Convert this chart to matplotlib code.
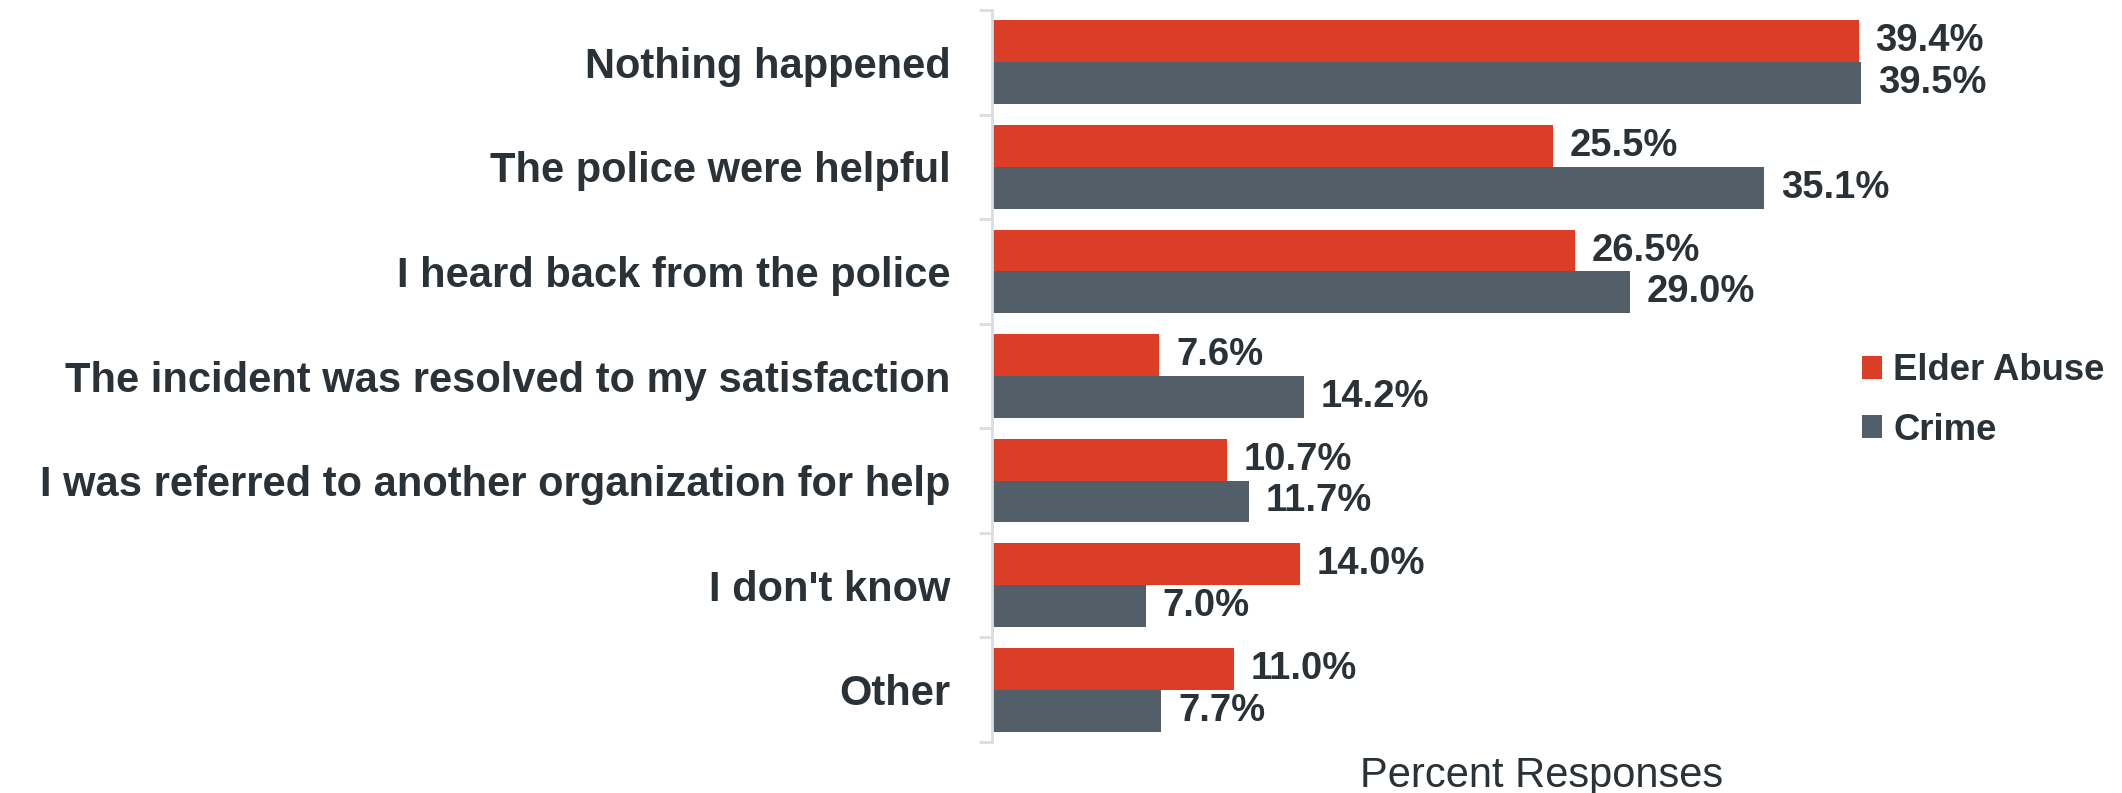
import matplotlib
matplotlib.use("Agg")
import matplotlib.pyplot as plt
import numpy as np
from matplotlib.patches import Patch

categories = ["Nothing happened", "The police were helpful", "I heard back from the police",
              "The incident was resolved to my satisfaction",
              "I was referred to another organization for help", "I don't know", "Other"]
elder_abuse = [39.4, 25.5, 26.5, 7.6, 10.7, 14.0, 11.0]
crime = [39.5, 35.1, 29.0, 14.2, 11.7, 7.0, 7.7]
series_names = ["Elder Abuse", "Crime"]

RED = "#DC3D26"
GRAY = "#535F68"
TXT = "#2B3237"
LIGHT = "#D9DEE2"

plt.rcParams['font.family'] = ['Liberation Sans', 'DejaVu Sans']

fig = plt.figure(figsize=(21.22, 7.93), dpi=100)
ax = fig.add_axes([0.4675, 0.0643, 0.5184, 0.9231])

y = np.arange(len(categories))
h = 0.4
ax.barh(y - h / 2, elder_abuse, height=h, color=RED, label=series_names[0])
ax.barh(y + h / 2, crime, height=h, color=GRAY, label=series_names[1])

for yi, v in zip(y, elder_abuse):
    ax.annotate(f"{v:.1f}%", (v, yi - h / 2), xytext=(12, 0), textcoords="offset points",
                va="center", ha="left", fontsize=27.5, fontweight="bold", color=TXT)
for yi, v in zip(y, crime):
    ax.annotate(f"{v:.1f}%", (v, yi + h / 2), xytext=(12, 0), textcoords="offset points",
                va="center", ha="left", fontsize=27.5, fontweight="bold", color=TXT)

ax.set_xlim(0, 50)
ax.set_ylim(len(categories) - 0.5, -0.5)
ax.set_yticks(y)
ax.set_yticklabels(categories, fontsize=30, fontweight="bold", color=TXT)
ax.tick_params(axis="y", which="major", length=0, pad=30)
ax.set_yticks(np.arange(-0.5, len(categories), 1.0), minor=True)
ax.tick_params(axis="y", which="minor", length=9.5, width=2, color=LIGHT)
ax.set_xticks([])
for s in ["top", "right", "bottom"]:
    ax.spines[s].set_visible(False)
ax.spines["left"].set_color(LIGHT)
ax.spines["left"].set_linewidth(2)

ax.set_xlabel("Percent Responses", fontsize=30, color=TXT, labelpad=10)

handles = [Patch(facecolor=RED), Patch(facecolor=GRAY)]
leg = fig.legend(handles, series_names, loc="center left", bbox_to_anchor=(0.862, 0.495),
                 frameon=False, prop={"family": "Liberation Sans", "weight": "bold", "size": 26.3},
                 handlelength=0.56, handleheight=0.56, handletextpad=0.3, labelspacing=0.66)
for t in leg.get_texts():
    t.set_color(TXT)

fig.savefig("out.png", dpi=100)
